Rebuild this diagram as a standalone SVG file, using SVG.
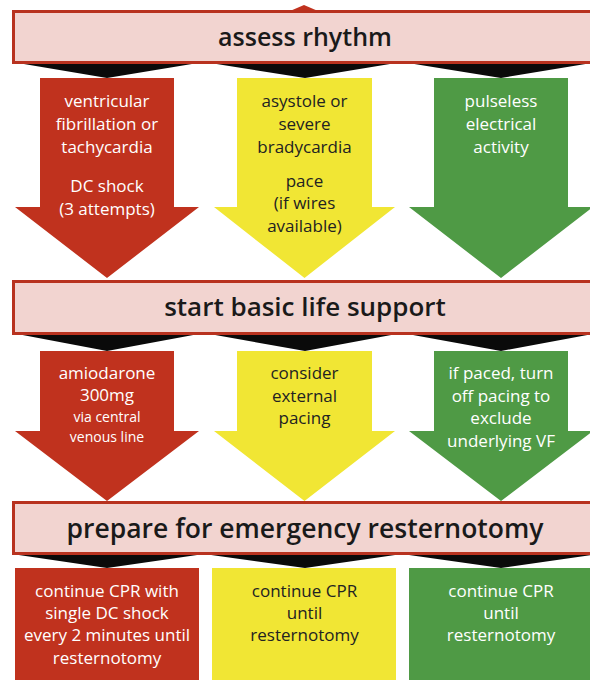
<svg xmlns="http://www.w3.org/2000/svg" width="590" height="680" viewBox="0 0 590 680">
<style>
.banner{fill:#f2d4d0;stroke:#b8321f;stroke-width:3}
.btxt{font-family:"Open Sans","Noto Sans",sans-serif;font-weight:600;fill:#1a1a1a;text-anchor:middle}
.red{fill:#c0321e}
.yel{fill:#f1e634}
.grn{fill:#4f9a45}
.t{font-family:"Open Sans","Noto Sans",sans-serif;font-size:17px;text-anchor:middle}
.w{fill:#ffffff}
.d{fill:#222222}
.sm{font-size:14px}
.wedge{fill:#0a0a0a}
</style>
<rect width="590" height="680" fill="#ffffff"/>
<g id="connectors">
<polygon class="red" points="290,11 304,5 318,11"/>
<polygon class="wedge" points="12,62 204,62 107,78"/>
<polygon class="wedge" points="204,62 402,62 305,78"/>
<polygon class="wedge" points="402,62 598,62 501,78"/>
<polygon class="wedge" points="12,333 204,333 107,351"/>
<polygon class="wedge" points="204,333 402,333 305,351"/>
<polygon class="wedge" points="402,333 598,333 501,351"/>
<polygon class="wedge" points="12,554 204,554 107,568"/>
<polygon class="wedge" points="204,554 402,554 305,568"/>
<polygon class="wedge" points="402,554 598,554 501,568"/>
</g>
<g id="banner-assess">
<rect class="banner" x="13.5" y="11.5" width="590" height="51"/>
<text class="btxt" x="305" y="46" font-size="25">assess rhythm</text>
</g>
<g id="arrow-vf">
<polygon class="red" points="40,78 174,78 174,207 199,207 107,278 15,207 40,207"/>
<text class="t w" x="107" y="107">ventricular</text>
<text class="t w" x="107" y="130">fibrillation or</text>
<text class="t w" x="107" y="153">tachycardia</text>
<text class="t w" x="107" y="192">DC shock</text>
<text class="t w" x="107" y="215">(3 attempts)</text>
</g>
<g id="arrow-asystole">
<polygon class="yel" points="237,78 372,78 372,207 395,207 304.5,278 214,207 237,207"/>
<text class="t d" x="304.5" y="107">asystole or</text>
<text class="t d" x="304.5" y="130">severe</text>
<text class="t d" x="304.5" y="153">bradycardia</text>
<text class="t d" x="304.5" y="187">pace</text>
<text class="t d" x="304.5" y="209">(if wires</text>
<text class="t d" x="304.5" y="232">available)</text>
</g>
<g id="arrow-pea">
<polygon class="grn" points="434,78 568,78 568,207 593,207 501,278 409,207 434,207"/>
<text class="t w" x="501" y="107">pulseless</text>
<text class="t w" x="501" y="130">electrical</text>
<text class="t w" x="501" y="153">activity</text>
</g>
<g id="banner-bls">
<rect class="banner" x="13.5" y="281.5" width="590" height="52"/>
<text class="btxt" x="305" y="316" font-size="26">start basic life support</text>
</g>
<g id="arrow-amiodarone">
<polygon class="red" points="40,351 174,351 174,431 199,431 107,501 15,431 40,431"/>
<text class="t w" x="107" y="379">amiodarone</text>
<text class="t w" x="107" y="401">300mg</text>
<text class="t w sm" x="107" y="422">via central</text>
<text class="t w sm" x="107" y="442">venous line</text>
</g>
<g id="arrow-pacing">
<polygon class="yel" points="237,351 372,351 372,431 395,431 304.5,501 214,431 237,431"/>
<text class="t d" x="304.5" y="379">consider</text>
<text class="t d" x="304.5" y="402">external</text>
<text class="t d" x="304.5" y="424">pacing</text>
</g>
<g id="arrow-paced">
<polygon class="grn" points="434,351 568,351 568,431 593,431 501,501 409,431 434,431"/>
<text class="t w" x="501" y="379">if paced, turn</text>
<text class="t w" x="501" y="402">off pacing to</text>
<text class="t w" x="501" y="424">exclude</text>
<text class="t w" x="501" y="447">underlying VF</text>
</g>
<g id="banner-resternotomy">
<rect class="banner" x="13.5" y="502.5" width="590" height="51"/>
<text class="btxt" x="305" y="538" font-size="26.5">prepare for emergency resternotomy</text>
</g>
<g id="box-vf">
<rect class="red" x="15" y="568" width="184" height="112"/>
<text class="t w" x="107" y="597">continue CPR with</text>
<text class="t w" x="107" y="619">single DC shock</text>
<text class="t w" x="107" y="641">every 2 minutes until</text>
<text class="t w" x="107" y="664">resternotomy</text>
</g>
<g id="box-asystole">
<rect class="yel" x="212" y="568" width="184" height="112"/>
<text class="t d" x="304.5" y="597">continue CPR</text>
<text class="t d" x="304.5" y="619">until</text>
<text class="t d" x="304.5" y="641">resternotomy</text>
</g>
<g id="box-pea">
<rect class="grn" x="409" y="568" width="181" height="112"/>
<text class="t w" x="501" y="597">continue CPR</text>
<text class="t w" x="501" y="619">until</text>
<text class="t w" x="501" y="641">resternotomy</text>
</g>
</svg>
